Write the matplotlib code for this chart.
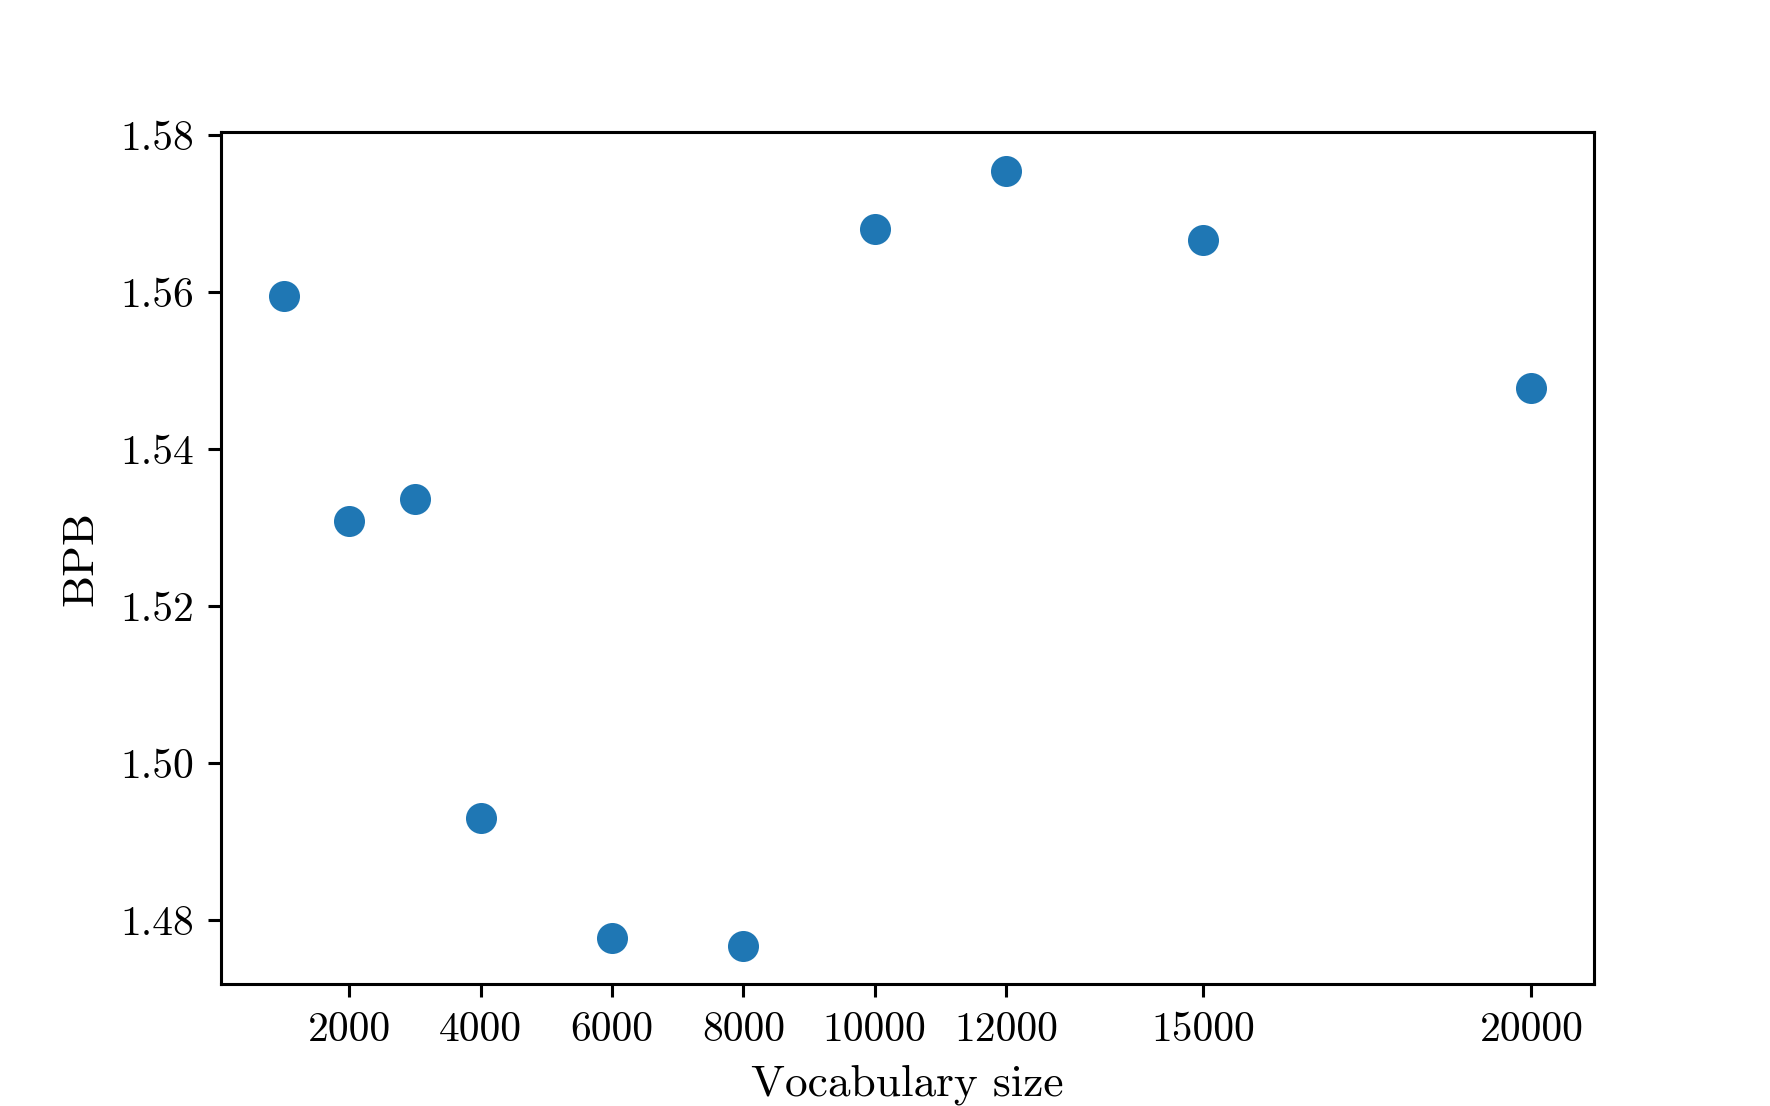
import matplotlib
matplotlib.use("Agg")
import matplotlib.pyplot as plt

vocab_sizes = [1000, 2000, 3000, 4000, 6000, 8000, 10000, 12000, 15000, 20000]
bpb = [1.5594, 1.5308, 1.5336, 1.4930, 1.4777, 1.4767, 1.5680, 1.5754, 1.5666, 1.5477]
x_ticks = [2000, 4000, 6000, 8000, 10000, 12000, 15000, 20000]
y_ticks = [1.48, 1.50, 1.52, 1.54, 1.56, 1.58]

plt.rcParams['font.family'] = ['serif']
plt.rcParams['font.serif'] = ['cmr10', 'DejaVu Serif']
plt.rcParams['mathtext.fontset'] = 'cm'
plt.rcParams['axes.formatter.use_mathtext'] = True

fig, ax = plt.subplots(figsize=(6.4, 4.0), dpi=276.7)
fig.subplots_adjust(left=0.125, right=0.9, top=0.88, bottom=0.11)
ax.scatter(vocab_sizes, bpb, s=50, color='#1f77b4', zorder=3)
ax.set_xticks(x_ticks)
ax.set_xticklabels([str(t) for t in x_ticks])
ax.set_yticks(y_ticks)
ax.set_yticklabels([f"{t:.2f}" for t in y_ticks])
ax.set_xlabel("Vocabulary size", fontsize=11.8, labelpad=4)
ax.set_ylabel("BPB", fontsize=11.8, labelpad=5)
ax.tick_params(labelsize=10.8)
fig.savefig("out.png", dpi=276.7)
